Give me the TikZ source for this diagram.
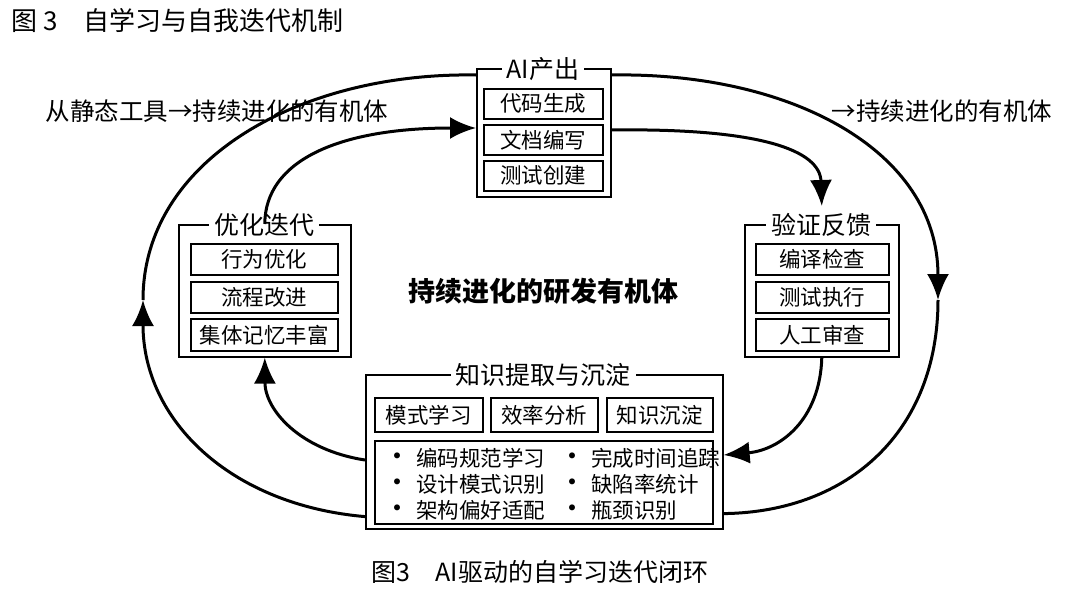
\documentclass[tikz,border=0pt]{standalone}
\usepackage{fontspec}
\setmainfont{Noto Sans CJK SC}
\usetikzlibrary{arrows.meta}
\begin{document}
\begin{tikzpicture}[x=1pt,y=-1pt,
 frame/.style={draw,line width=1.6pt,anchor=north west,inner sep=0pt},
 inbox/.style={draw,line width=1.6pt,anchor=north west,inner sep=0pt},
 itx/.style={font=\fontsize{21.5}{23}\selectfont},
 ttl/.style={fill=white,inner sep=5pt,font=\fontsize{25}{27}\selectfont},
 conn/.style={line width=3pt,-{Latex[length=26pt,width=22pt]}},
 plain/.style={line width=3pt},
 lbl/.style={font=\fontsize{24.5}{26}\selectfont}]
\useasboundingbox (0,0) rectangle (1080,589);
\node[anchor=west,font=\fontsize{26}{28}\selectfont] (title) at (8,21) {图 3\quad 自学习与自我迭代机制};
% top box
\node[frame,minimum width=134pt,minimum height=128pt] (top) at (476,68) {};
\node[ttl] (toptl) at (543,69) {AI产出};
\node[inbox,minimum width=119pt,minimum height=30pt] (t1) at (483,88) {};\node[itx] at (t1.center) {代码生成};
\node[inbox,minimum width=119pt,minimum height=30pt] (t2) at (483,124) {};\node[itx] at (t2.center) {文档编写};
\node[inbox,minimum width=119pt,minimum height=30pt] (t3) at (483,160) {};\node[itx] at (t3.center) {测试创建};
% left box
\node[frame,minimum width=172pt,minimum height=132pt] (left) at (178,224) {};
\node[ttl] (lefttl) at (264,225) {优化迭代};
\node[inbox,minimum width=147pt,minimum height=31pt] (l1) at (190,243) {};\node[itx] at (l1.center) {行为优化};
\node[inbox,minimum width=147pt,minimum height=31pt] (l2) at (190,281) {};\node[itx] at (l2.center) {流程改进};
\node[inbox,minimum width=147pt,minimum height=32pt] (l3) at (190,318) {};\node[itx] at (l3.center) {集体记忆丰富};
% right box
\node[frame,minimum width=154pt,minimum height=132pt] (right) at (744,224) {};
\node[ttl] (righttl) at (821,225) {验证反馈};
\node[inbox,minimum width=133pt,minimum height=31pt] (r1) at (755,243) {};\node[itx] at (r1.center) {编译检查};
\node[inbox,minimum width=133pt,minimum height=31pt] (r2) at (755,281) {};\node[itx] at (r2.center) {测试执行};
\node[inbox,minimum width=133pt,minimum height=32pt] (r3) at (755,318) {};\node[itx] at (r3.center) {人工审查};
% bottom box
\node[frame,minimum width=357pt,minimum height=154pt] (bot) at (365,374) {};
\node[ttl] (bottl) at (543,375) {知识提取与沉淀};
\node[inbox,minimum width=108pt,minimum height=34pt] (b1) at (374,397) {};\node[itx] at (b1.center) {模式学习};
\node[inbox,minimum width=107pt,minimum height=34pt] (b2) at (490,397) {};\node[itx] at (b2.center) {效率分析};
\node[inbox,minimum width=106pt,minimum height=34pt] (b3) at (606,397) {};\node[itx] at (b3.center) {知识沉淀};
\node[inbox,minimum width=338pt,minimum height=83pt] (b4) at (374,440) {};
\foreach \t/\x/\y in {编码规范学习/380/458,设计模式识别/380/484,架构偏好适配/380/510,完成时间追踪/555/458,缺陷率统计/555/484,瓶颈识别/555/510}
 \node[anchor=west,itx] at (\x,\y) {{\fontsize{28}{28}\selectfont\textbullet}\ \t};
% texts
\node[font=\bfseries\fontsize{27}{29}\selectfont] (center) at (543,291) {持续进化的研发有机体};
\node[lbl] (ll) at (217,111) {从静态工具→持续进化的有机体};
\node[lbl] (rl) at (942,111) {→持续进化的有机体};
\node[font=\fontsize{25}{27}\selectfont] (cap) at (540,572) {图3\quad AI驱动的自学习迭代闭环};
% outer loop
\coordinate (lm) at (143,300);
\coordinate (rm) at (938,300);
\draw[conn] ([yshift=13pt]bot.south west) .. controls (230,505) and (143,420) .. (lm);
\draw[plain] (lm) .. controls (143,160) and (300,72) .. ([yshift=-7pt]top.north west);
\draw[conn] ([yshift=-7pt]top.north east) .. controls (790,72) and (938,150) .. (rm);
\draw[plain] (rm) .. controls (938,430) and (850,512) .. ([yshift=16pt]bot.south east);
% inner loop
\draw[conn] (left.north) .. controls (265,160) and (340,128) .. ([yshift=-60pt]top.north west);
\draw[conn] ([yshift=-62pt]top.north east) .. controls (760,128) and (820,150) .. ([yshift=18pt]right.north);
\draw[conn] (right.south) .. controls (820,420) and (780,450) .. ([yshift=-81pt]bot.north east);
\draw[conn] ([yshift=-86pt]bot.north west) .. controls (300,450) and (265,410) .. (left.south);
\end{tikzpicture}
\end{document}
